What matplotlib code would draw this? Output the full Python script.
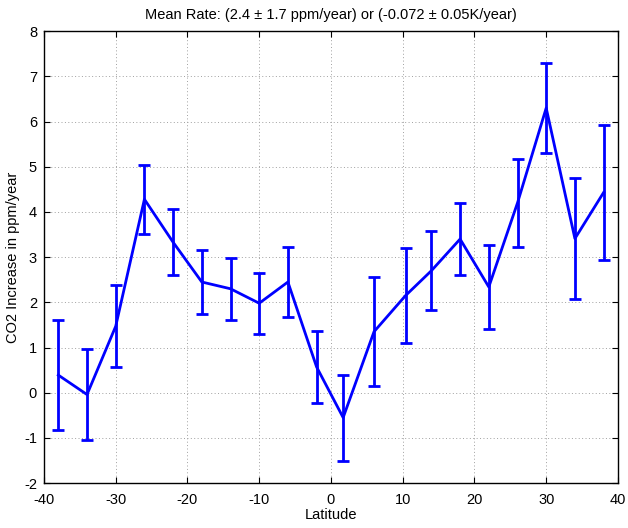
import matplotlib
matplotlib.use("Agg")
import matplotlib.pyplot as plt

# CO2 increase per latitude band (ppm/year) with error bars
latitude = [-38, -34, -30, -26, -22, -18, -14, -10, -6, -2,
            1.7, 6, 10.4, 14, 18, 22, 26, 30, 34, 38]
rate = [0.39, -0.04, 1.47, 4.28, 3.33, 2.45, 2.30, 1.98, 2.45, 0.57,
        -0.55, 1.35, 2.15, 2.70, 3.40, 2.34, 4.20, 6.30, 3.41, 4.43]
err = [1.22, 1.01, 0.91, 0.76, 0.73, 0.71, 0.69, 0.68, 0.78, 0.79,
       0.95, 1.21, 1.06, 0.87, 0.79, 0.93, 0.97, 1.00, 1.34, 1.50]

plt.rcParams['font.family'] = ['Liberation Sans', 'DejaVu Sans']
plt.rcParams['axes.unicode_minus'] = False

fig = plt.figure(figsize=(6.28, 5.28), dpi=100)
ax = fig.add_axes([0.070, 0.085, 0.914, 0.856])

ax.errorbar(latitude, rate, yerr=err, color='#0000ff', linewidth=2,
            elinewidth=2, capsize=4, capthick=2)

ax.set_xlim(-40, 40)
ax.set_ylim(-2, 8)
ax.set_xticks(range(-40, 41, 10))
ax.set_yticks(range(-2, 9, 1))
ax.grid(True, linestyle=(0, (1, 2.5)), color='#a0a0a0', linewidth=0.7)
ax.tick_params(direction='in', top=True, right=True, length=4,
               labelsize=10.5, width=0.8)
ax.tick_params(axis='x', pad=7)
ax.tick_params(axis='y', pad=5)
for s in ax.spines.values():
    s.set_linewidth(1)

ax.set_xlabel('Latitude', fontsize=10.5, labelpad=1)
ax.set_ylabel('CO2 Increase in ppm/year', fontsize=10.5, labelpad=3)
ax.set_title('Mean Rate: (2.4 \u00b1 1.7 ppm/year) or (-0.072 \u00b1 0.05K/year)',
             fontsize=10.5, pad=9)

fig.savefig('out.png', dpi=100)
